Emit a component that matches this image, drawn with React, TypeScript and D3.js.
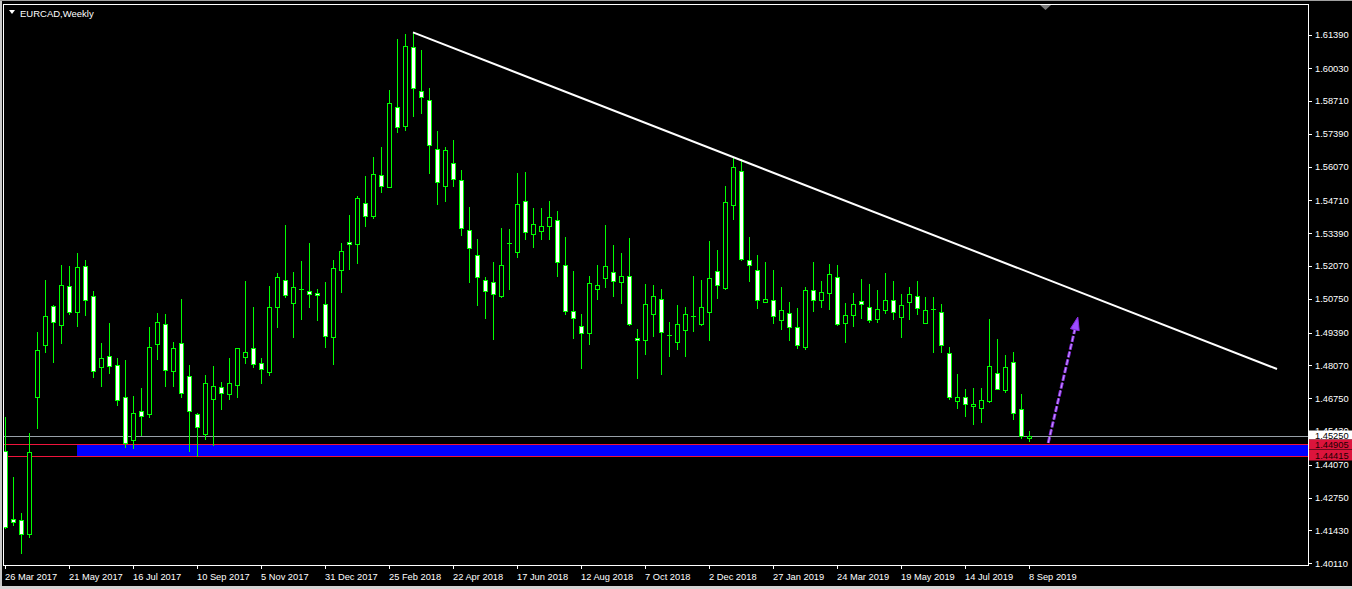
import React from "react";
import * as d3 from "d3";

// ---- data (EURCAD weekly, 26 Mar 2017 .. 8 Sep 2019) ----
const opens = [1.44630,1.41881,1.41841,1.41278,1.46815,1.48907,1.50452,1.49688,1.51257,1.50211,1.52062,1.50855,1.48022,1.48465,1.48078,1.46791,1.45060,1.46227,1.46107,1.48923,1.49728,1.47837,1.48964,1.47636,1.46107,1.45302,1.46738,1.47193,1.46935,1.47273,1.48400,1.48762,1.48159,1.47809,1.50412,1.51499,1.50573,1.51137,1.51056,1.50976,1.50533,1.49205,1.51901,1.53028,1.52947,1.54597,1.54098,1.55724,1.55241,1.58460,1.57720,1.60875,1.59104,1.58742,1.56770,1.55281,1.56231,1.55547,1.53511,1.52505,1.51499,1.51418,1.50879,1.52988,1.52650,1.54678,1.53350,1.53470,1.53696,1.53913,1.52102,1.50251,1.49648,1.49366,1.51137,1.51579,1.51821,1.51418,1.51660,1.49189,1.49108,1.50131,1.50734,1.49285,1.49028,1.49487,1.50074,1.49752,1.50235,1.51861,1.51201,1.54541,1.55885,1.52303,1.51901,1.50638,1.50694,1.49889,1.50171,1.49619,1.48827,1.51096,1.50694,1.50976,1.51619,1.49768,1.50090,1.50678,1.50412,1.49929,1.50291,1.50694,1.50010,1.50613,1.50855,1.49768,1.50332,1.50211,1.48561,1.46630,1.46791,1.46428,1.46372,1.46654,1.47756,1.47072,1.48199,1.46308,1.45141];
const highs = [1.46010,1.43596,1.42123,1.45354,1.49406,1.51511,1.50505,1.52114,1.52074,1.52585,1.52316,1.51056,1.48976,1.49780,1.48384,1.48292,1.46843,1.47165,1.49619,1.50183,1.50143,1.49016,1.50746,1.48090,1.46159,1.47688,1.48050,1.47406,1.48384,1.48762,1.51471,1.50424,1.48360,1.51281,1.51792,1.53724,1.51832,1.52275,1.53000,1.51149,1.51430,1.52303,1.53000,1.54126,1.54879,1.55684,1.56460,1.56863,1.59144,1.61209,1.61410,1.61478,1.60754,1.59237,1.57507,1.56863,1.57144,1.55937,1.54448,1.53161,1.51632,1.52235,1.53603,1.53563,1.55816,1.55857,1.54408,1.54396,1.54690,1.54287,1.53229,1.51873,1.50143,1.51672,1.52114,1.53724,1.52919,1.52597,1.53201,1.49539,1.51350,1.51310,1.51149,1.49821,1.50505,1.50424,1.51672,1.51511,1.53080,1.52718,1.55293,1.56408,1.56368,1.53229,1.52505,1.52235,1.51913,1.51229,1.50626,1.50384,1.51229,1.52235,1.51458,1.52155,1.52114,1.50573,1.50976,1.51551,1.51338,1.51096,1.51792,1.51458,1.50935,1.51217,1.51458,1.50815,1.50815,1.50533,1.48803,1.47716,1.47113,1.47153,1.47153,1.49929,1.49125,1.48481,1.48601,1.46911,1.45435];
const lows = [1.41531,1.41652,1.40537,1.41157,1.45567,1.48626,1.48223,1.48988,1.50143,1.49660,1.50102,1.47620,1.47257,1.47781,1.46493,1.44803,1.44763,1.45274,1.46010,1.48344,1.47257,1.47257,1.46791,1.44642,1.44441,1.45125,1.44859,1.46332,1.46738,1.46815,1.48183,1.47998,1.47354,1.47688,1.49607,1.50839,1.49205,1.49953,1.50436,1.49913,1.48803,1.48143,1.51016,1.51965,1.52183,1.53696,1.54018,1.55064,1.55241,1.57478,1.57559,1.58122,1.58243,1.55829,1.54581,1.54702,1.55305,1.53334,1.51442,1.50517,1.49994,1.49149,1.50839,1.51149,1.52448,1.53149,1.52851,1.53173,1.53173,1.51684,1.50155,1.49189,1.47982,1.48947,1.50758,1.51241,1.50879,1.50597,1.49712,1.47579,1.48545,1.49269,1.47740,1.48465,1.48746,1.48465,1.49459,1.49712,1.49108,1.50799,1.51161,1.53965,1.52316,1.51483,1.50396,1.50638,1.49793,1.49551,1.49108,1.48787,1.48746,1.50275,1.50436,1.50356,1.49700,1.49028,1.49672,1.49994,1.49833,1.49833,1.50195,1.49929,1.49229,1.49929,1.50131,1.49768,1.48626,1.48626,1.46710,1.46360,1.46026,1.45728,1.45809,1.46589,1.47113,1.46992,1.45929,1.45141,1.45020];
const closes = [1.41584,1.41761,1.41302,1.44577,1.48694,1.50050,1.49809,1.51297,1.50235,1.52022,1.50694,1.47837,1.48360,1.48038,1.46670,1.44940,1.46147,1.46038,1.48803,1.49809,1.47877,1.48762,1.46952,1.46227,1.45583,1.47354,1.47233,1.46952,1.47354,1.48762,1.48601,1.48119,1.47929,1.50412,1.51619,1.50895,1.51217,1.51137,1.50935,1.50895,1.49245,1.51994,1.52666,1.52947,1.54798,1.54074,1.55764,1.55281,1.58621,1.57655,1.60915,1.59249,1.58863,1.56931,1.55442,1.56730,1.55563,1.53591,1.52786,1.51619,1.51056,1.50959,1.52102,1.52988,1.54569,1.53430,1.53752,1.53672,1.54034,1.52223,1.50251,1.49970,1.49366,1.51378,1.51297,1.52062,1.51458,1.51660,1.49752,1.49084,1.50533,1.50867,1.49406,1.49285,1.49728,1.50131,1.50074,1.50412,1.51579,1.51297,1.54637,1.56046,1.52368,1.52102,1.50694,1.50734,1.50042,1.50304,1.49607,1.48883,1.51096,1.50694,1.51016,1.51740,1.49728,1.50090,1.50533,1.50533,1.49889,1.50332,1.50694,1.50211,1.50493,1.50935,1.50372,1.50291,1.50332,1.48883,1.46791,1.46791,1.46509,1.46509,1.46670,1.48038,1.47113,1.47998,1.46147,1.45221,1.45250];

const dateLabels = ["26 Mar 2017","21 May 2017","16 Jul 2017","10 Sep 2017","5 Nov 2017","31 Dec 2017","25 Feb 2018","22 Apr 2018","17 Jun 2018","12 Aug 2018","7 Oct 2018","2 Dec 2018","27 Jan 2019","24 Mar 2019","19 May 2019","14 Jul 2019","8 Sep 2019"];
const dateLabelIdx = [0,8,16,24,32,40,48,56,64,72,80,88,96,104,112,120,128];
const priceTicks = [1.61390,1.60030,1.58710,1.57390,1.56070,1.54710,1.53390,1.52070,1.50750,1.49390,1.48070,1.46750,1.45430,1.44070,1.42750,1.41430,1.40110];

const bidPrice = 1.45250;
const zoneTop = 1.44905;
const zoneBottom = 1.44415;
const zoneStartIdx = 9;
const trendIdx = [51, 159];
const trendPrice = [1.61478, 1.47929];
const arrowIdx = [130.4, 134.1];
const arrowPrice = [1.4495, 1.5002];

const W = 1352, H = 589;
const PL = 4, PT = 4, PR = 1308, PB = 565;

export default function App() {
  const x = d3.scaleLinear().domain([0, 128]).range([5, 1029]);
  const y = d3.scaleLinear().domain([1.40110, 1.61390]).range([563.3, 34.5]);
  const font = "'Liberation Sans', Arial, sans-serif";
  const green = "#00ff00";

  const candles = opens.map((o, i) => {
    const c = closes[i];
    const cx = Math.round(x(i));
    const top = Math.round(y(Math.max(o, c)));
    const bot = Math.round(y(Math.min(o, c)));
    const bull = c > o;
    return (
      <g key={i}>
        <line x1={cx + 0.5} x2={cx + 0.5} y1={Math.round(y(highs[i]))} y2={Math.round(y(lows[i])) + 1} stroke={green} strokeWidth={1} />
        {bot - top < 1 ? (
          <line x1={cx - 2} x2={cx + 3} y1={top + 0.5} y2={top + 0.5} stroke={green} strokeWidth={1} />
        ) : (
          <rect x={cx - 2 + 0.5} y={top + 0.5} width={4} height={bot - top} fill={bull ? "#000" : "#fff"} stroke={green} strokeWidth={1} />
        )}
      </g>
    );
  });

  const yBid = Math.round(y(bidPrice)) + 0.5;
  const yZt = Math.round(y(zoneTop)) + 0.5;
  const yZb = Math.round(y(zoneBottom)) + 0.5;

  // arrow
  const ax1 = x(arrowIdx[0]), ay1 = y(arrowPrice[0]);
  const ax2 = x(arrowIdx[1]), ay2 = y(arrowPrice[1]);
  const ang = Math.atan2(ay2 - ay1, ax2 - ax1);
  const hl = 13, hw = 4.5;
  const bx = ax2 - hl * Math.cos(ang), by = ay2 - hl * Math.sin(ang);
  const px = -Math.sin(ang), py = Math.cos(ang);
  const head = `${ax2},${ay2} ${bx + hw * px},${by + hw * py} ${bx - hw * px},${by - hw * py}`;

  return (
    <svg width={W} height={H} style={{ position: "absolute", left: 0, top: 0, display: "block", background: "#000" }}>
      <defs>
        <clipPath id="plot">
          <rect x={PL} y={PT} width={PR - PL} height={PB - PT} />
        </clipPath>
      </defs>
      <rect x={0} y={0} width={W} height={H} fill="#000" />
      <rect x={0} y={0} width={2} height={H} fill="#c8c8c8" />
      <rect x={0} y={0} width={W} height={1} fill="#a0a0a0" />
      <rect x={0} y={586} width={W} height={3} fill="#d4d4d4" />

      <g clipPath="url(#plot)">
        {/* zone */}
        <rect x={Math.round(x(zoneStartIdx))} y={yZt} width={PR - Math.round(x(zoneStartIdx))} height={yZb - yZt} fill="#0000ff" />
        <line x1={PL} x2={PR} y1={yZt} y2={yZt} stroke="#f0143c" strokeWidth={1} />
        <line x1={PL} x2={PR} y1={yZb} y2={yZb} stroke="#f0143c" strokeWidth={1} />
        <line x1={PL} x2={PR} y1={yBid} y2={yBid} stroke="#98a0a8" strokeWidth={1} />
        {candles}
        <line x1={x(trendIdx[0])} y1={y(trendPrice[0])} x2={x(trendIdx[1])} y2={y(trendPrice[1])} stroke="#fff" strokeWidth={2} />
        <line x1={ax1} y1={ay1} x2={bx} y2={by} stroke="#8a2be2" strokeWidth={3} strokeDasharray="6,2" />
        <line x1={ax1} y1={ay1} x2={bx} y2={by} stroke="#c9a0ff" strokeWidth={1} strokeDasharray="6,2" />
        <polygon points={head} fill="#9b4dff" stroke="#8a2be2" strokeWidth={1} />
      </g>

      {/* frame */}
      <rect x={3.5} y={4.5} width={PR - 3} height={PB - 4} fill="none" stroke="#fff" strokeWidth={1} />
      <polygon points="1040,5 1051,5 1045.5,10" fill="#7a7a7a" />

      {/* title */}
      <polygon points="9,10 15,10 12,14" fill="#fff" />
      <text x={20} y={16.5} fill="#fff" fontFamily={font} fontSize={9.5}>EURCAD,Weekly</text>

      {/* price axis */}
      {priceTicks.map((p, i) => (
        <g key={i}>
          <line x1={PR + 1} x2={PR + 4} y1={Math.round(y(p)) + 0.5} y2={Math.round(y(p)) + 0.5} stroke="#fff" />
          <text x={1315} y={y(p) + 3.3} fill="#fff" fontFamily={font} fontSize={9.3}>{p.toFixed(5)}</text>
        </g>
      ))}
      {/* price labels */}
      <rect x={1309} y={430.5} width={43} height={9} fill="#fff" />
      <text x={1315} y={438.5} fill="#000" fontFamily={font} fontSize={9.3}>{bidPrice.toFixed(5)}</text>
      <rect x={1309} y={439.5} width={43} height={10} fill="#dc143c" />
      <text x={1315} y={447.8} fill="#1a0000" fontFamily={font} fontSize={9.3}>{zoneTop.toFixed(5)}</text>
      <rect x={1309} y={450} width={43} height={10.5} fill="#dc143c" />
      <text x={1315} y={458.5} fill="#1a0000" fontFamily={font} fontSize={9.3}>{zoneBottom.toFixed(5)}</text>

      {/* time axis */}
      {dateLabelIdx.map((idx, i) => {
        const tx = Math.round(x(idx));
        return (
          <g key={i}>
            <line x1={tx + 0.5} x2={tx + 0.5} y1={PB + 1} y2={PB + 4} stroke="#fff" />
            <text x={tx} y={580} fill="#fff" fontFamily={font} fontSize={9.3}>{dateLabels[i]}</text>
          </g>
        );
      })}
    </svg>
  );
}
